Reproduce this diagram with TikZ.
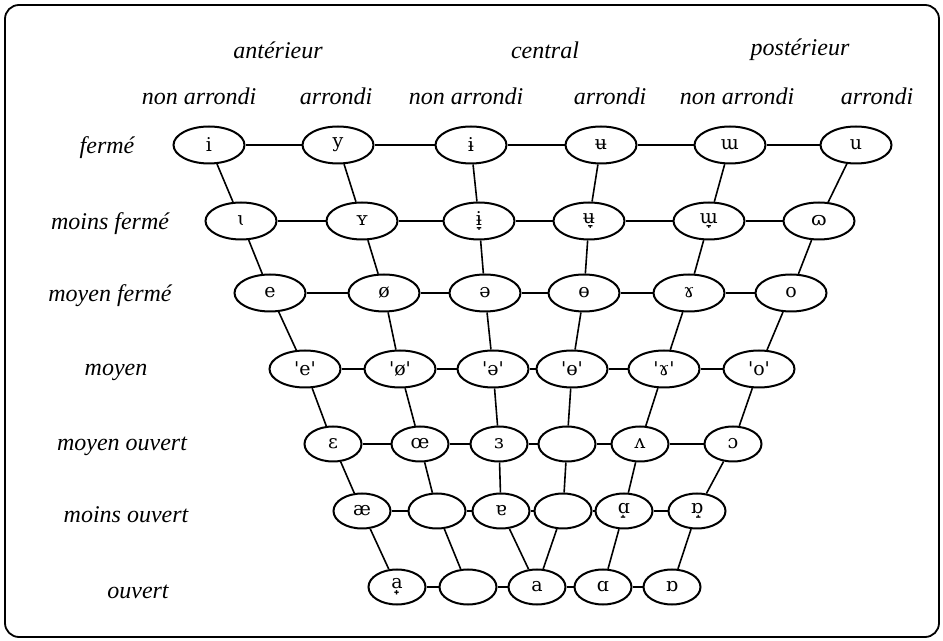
\documentclass[tikz,border=0pt]{standalone}
\usepackage{fontspec}
\setmainfont{Liberation Serif}
\newfontfamily\ipafont[Ligatures=TeXOff]{DejaVu Serif}
\usetikzlibrary{shapes.geometric}
\begin{document}
\begin{tikzpicture}[x=0.5pt,y=-0.5pt,
  vow/.style={ellipse,draw,line width=1pt,minimum width=35.5pt,minimum height=18.5pt,inner sep=0pt,font=\ipafont\fontsize{9.5}{11}\selectfont},
  vs/.style={vow,minimum width=28.5pt,minimum height=17.5pt},
  lab/.style={font=\itshape\fontsize{12}{14}\selectfont,inner sep=0pt},
  edge/.style={line width=0.8pt}]
\useasboundingbox (0,0) rectangle (943,641);
\draw[line width=0.9pt,rounded corners=7pt] (5,5) rectangle (939,637);
% column headers
\node[lab] (hA) at (278,50) {antérieur};
\node[lab] (hC) at (545,50) {central};
\node[lab] (hP) at (800,50) {postérieur};
\node[lab] (h1) at (199,96) {non arrondi};
\node[lab] (h2) at (336,96) {arrondi};
\node[lab] (h3) at (466,96) {non arrondi};
\node[lab] (h4) at (610,96) {arrondi};
\node[lab] (h5) at (737,96) {non arrondi};
\node[lab] (h6) at (877,96) {arrondi};
% row labels
\node[lab] (l1) at (107,148) {fermé};
\node[lab] (l2) at (110,224) {moins fermé};
\node[lab] (l3) at (110,296) {moyen fermé};
\node[lab] (l4) at (116,372) {moyen};
\node[lab] (l5) at (122,446) {moyen ouvert};
\node[lab] (l6) at (126,515) {moins ouvert};
\node[lab] (l7) at (138,592) {ouvert};
% row 1
\node[vow] (r1c1) at (209,145) {i};
\node[vow] (r1c2) at (338,145) {y};
\node[vow] (r1c3) at (471,145) {ɨ};
\node[vow] (r1c4) at (601,145) {ʉ};
\node[vow] (r1c5) at (730,145) {ɯ};
\node[vow] (r1c6) at (856,145) {u};
% row 2
\node[vow] (r2c1) at (241,221) {ɩ};
\node[vow] (r2c2) at (362,221) {ʏ};
\node[vow] (r2c3) at (479,221) {ɨ̞};
\node[vow] (r2c4) at (589,221) {ʉ̞};
\node[vow] (r2c5) at (709,221) {ɯ̞};
\node[vow] (r2c6) at (819,221) {ɷ};
% row 3
\node[vow] (r3c1) at (270,293) {e};
\node[vow] (r3c2) at (384,293) {ø};
\node[vow] (r3c3) at (485,293) {ə};
\node[vow] (r3c4) at (584,293) {ɵ};
\node[vow] (r3c5) at (689,293) {ɤ};
\node[vow] (r3c6) at (791,293) {o};
% row 4
\node[vow] (r4c1) at (305,369) {'e'};
\node[vow] (r4c2) at (400,369) {'ø'};
\node[vow] (r4c3) at (493,369) {'ə'};
\node[vow] (r4c4) at (572,369) {'ɵ'};
\node[vow] (r4c5) at (664,369) {'ɤ'};
\node[vow] (r4c6) at (759,369) {'o'};
% row 5
\node[vs] (r5c1) at (333,444) {ɛ};
\node[vs] (r5c2) at (420,444) {œ};
\node[vs] (r5c3) at (499,444) {ɜ};
\node[vs] (r5c4) at (567,444) {};
\node[vs] (r5c5) at (640,444) {ʌ};
\node[vs] (r5c6) at (733,444) {ɔ};
% row 6
\node[vs] (r6c1) at (362,511) {æ};
\node[vs] (r6c2) at (437,511) {};
\node[vs] (r6c3) at (501,511) {ɐ};
\node[vs] (r6c4) at (563,511) {};
\node[vs] (r6c5) at (624,511) {ɑ̝};
\node[vs] (r6c6) at (697,511) {ɒ̝};
% row 7
\node[vs] (r7c1) at (397,587) {a̟};
\node[vs] (r7c2) at (468,587) {};
\node[vs] (r7c3) at (537,587) {a};
\node[vs] (r7c4) at (603,587) {ɑ};
\node[vs] (r7c5) at (672,587) {ɒ};
% horizontal connectors
\foreach \r in {1,...,6}{
  \foreach \c [evaluate=\c as \n using int(\c+1)] in {1,...,5}{
    \draw[edge] (r\r c\c) -- (r\r c\n);
  }
}
\foreach \c [evaluate=\c as \n using int(\c+1)] in {1,...,4}{
  \draw[edge] (r7c\c) -- (r7c\n);
}
% vertical connectors
\foreach \r [evaluate=\r as \s using int(\r+1)] in {1,...,5}{
  \foreach \c in {1,...,6}{
    \draw[edge] (r\r c\c) -- (r\s c\c);
  }
}
\draw[edge] (r6c1) -- (r7c1);
\draw[edge] (r6c2) -- (r7c2);
\draw[edge] (r6c3) -- (r7c3);
\draw[edge] (r6c4) -- (r7c3);
\draw[edge] (r6c5) -- (r7c4);
\draw[edge] (r6c6) -- (r7c5);
\end{tikzpicture}
\end{document}
